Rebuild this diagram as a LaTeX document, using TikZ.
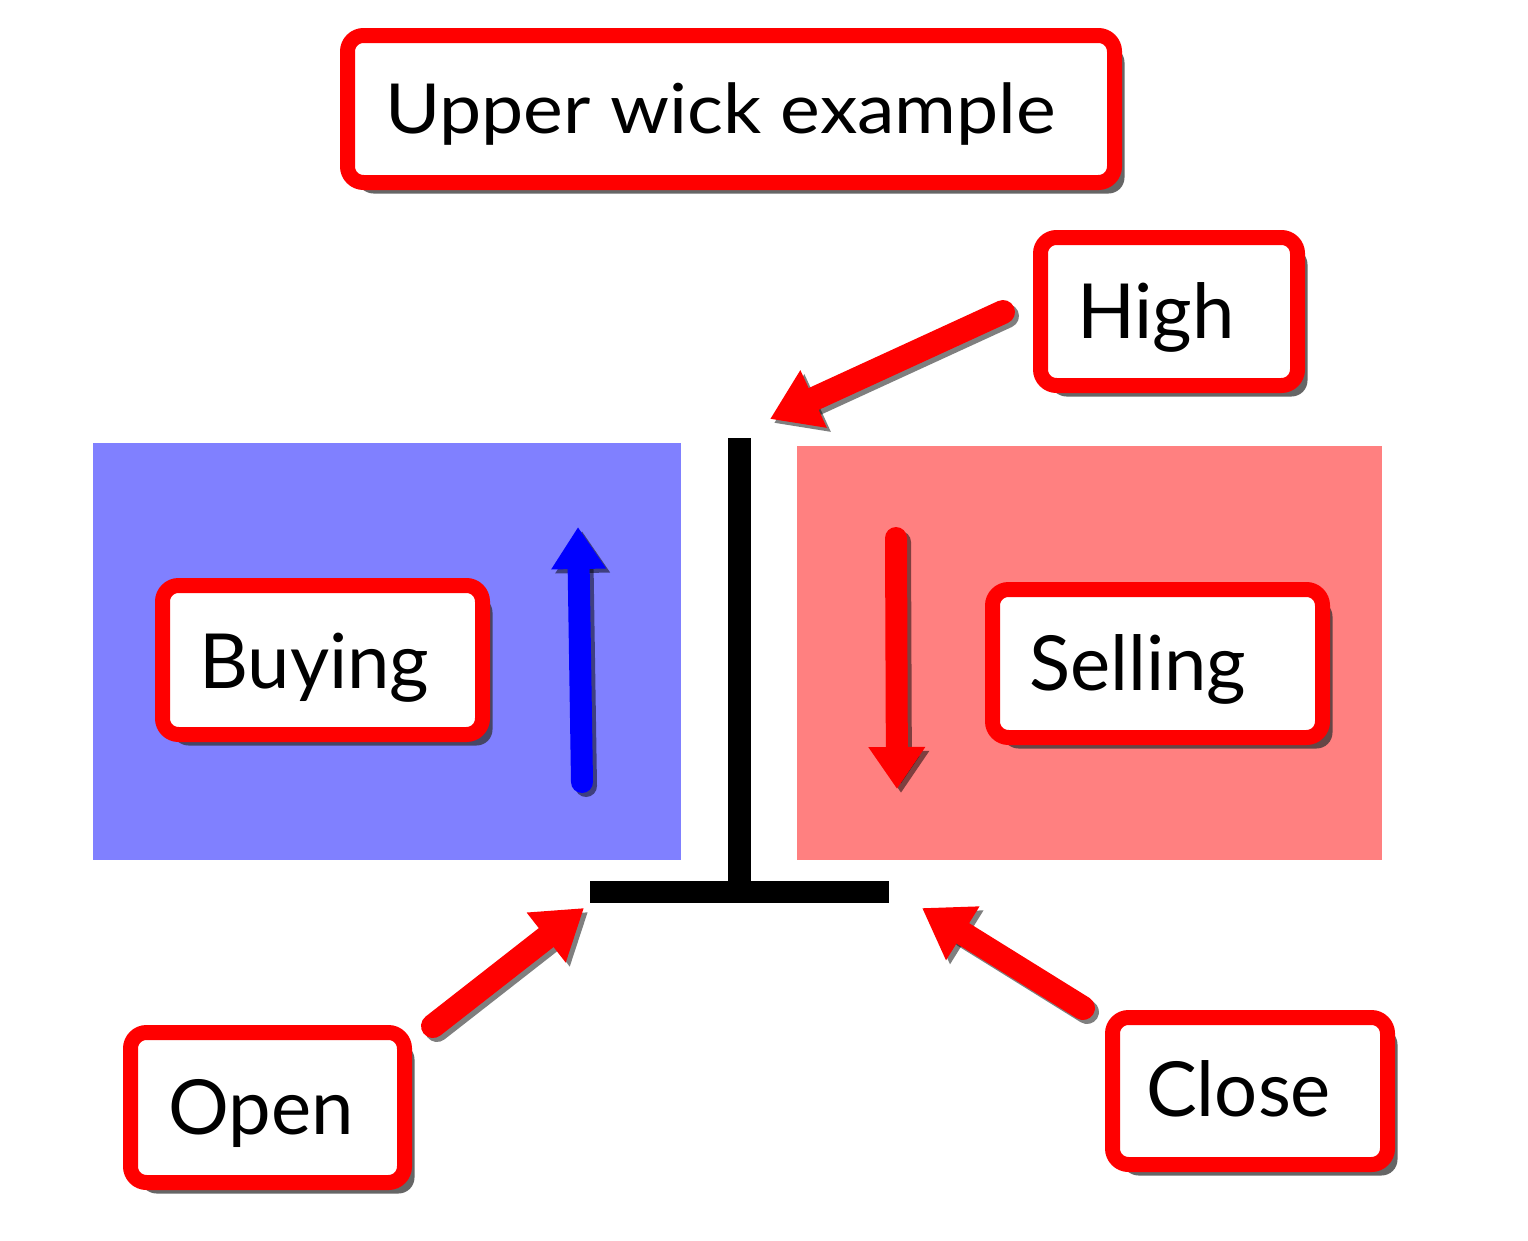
\documentclass[tikz,border=0pt]{standalone}
\usepackage{fontspec}
\setmainfont{Lato}
\usetikzlibrary{arrows.meta,shadows}
\definecolor{buyfill}{HTML}{8080FF}
\definecolor{sellfill}{HTML}{FF8080}
\definecolor{boxred}{HTML}{FF0000}
\tikzset{
  labelbox/.style={draw=boxred, line width=15pt, rounded corners=16pt, fill=white,
    inner sep=0pt, drop shadow={shadow xshift=10pt, shadow yshift=-11pt, opacity=0.75, fill=black!80}},
  labeltext/.style={anchor=base west, inner sep=0pt, font=\fontsize{76}{80}\selectfont},
  titletext/.style={anchor=base west, inner sep=0pt, xscale=1.09, font=\fontsize{69}{72}\selectfont},
  bigarrow/.style={line width=24pt, line cap=round, -{Triangle[width=60pt,length=48pt]}},
  arrowshadow/.style={bigarrow, draw=black, opacity=0.5, transform canvas={xshift=4pt,yshift=-4pt}},
  candle/.style={fill=black, draw=none}
}
\begin{document}
\begin{tikzpicture}[x=1pt,y=-1pt]
\useasboundingbox (0,0) rectangle (1528,1240);
\fill[white] (0,0) rectangle (1528,1240);

% coloured zones
\fill[buyfill] (93,443) rectangle (681,860);
\fill[sellfill] (797,446) rectangle (1382,860);

% candle
\fill[candle] (728,438) rectangle (751,892);
\fill[candle] (590,881) rectangle (889,903);

% boxes
\node[labelbox, minimum width=767pt, minimum height=147pt] (title) at (731,109) {};
\node[titletext] (titlet) at (385,133) {Upper wick example};

\node[labelbox, minimum width=257pt, minimum height=148pt] (high) at (1169,311.5) {};
\node[labeltext] (hight) at (1077,338) {High};

\node[labelbox, minimum width=320pt, minimum height=149pt] (buy) at (322.5,660) {};
\node[labeltext] (buyt) at (199,688) {Buying};

\node[labelbox, minimum width=330pt, minimum height=148pt] (sell) at (1157.5,663.5) {};
\node[labeltext] (sellt) at (1029,690) {Selling};

\node[labelbox, minimum width=274pt, minimum height=150pt] (open) at (267.5,1107.5) {};
\node[labeltext] (opent) at (168,1134) {Open};

\node[labelbox, minimum width=275pt, minimum height=147pt] (close) at (1250,1091) {};
\node[labeltext] (closet) at (1146,1116) {Close};

% arrow anchor coordinates
\coordinate (hightail) at (1003,312);
\coordinate (hightip) at (770,419);
\coordinate (opentail) at (433,1026);
\coordinate (opentip) at (584,908);
\coordinate (closetail) at (1083,1008);
\coordinate (closetip) at (922,908);
\coordinate (buytail) at (582,782);
\coordinate (buytip) at (578,527);
\coordinate (selltail) at (896,538);
\coordinate (selltip) at (897,789);

% pointer arrows
\draw[arrowshadow] (hightail) -- (hightip);
\draw[bigarrow, draw=boxred, fill=boxred] (hightail) -- (hightip);
\draw[arrowshadow] (opentail) -- (opentip);
\draw[bigarrow, draw=boxred, fill=boxred] (opentail) -- (opentip);
\draw[arrowshadow] (closetail) -- (closetip);
\draw[bigarrow, draw=boxred, fill=boxred] (closetail) -- (closetip);

% direction arrows
\draw[arrowshadow, line width=22pt, -{Triangle[width=52pt,length=42pt]}] (buytail) -- (buytip);
\draw[line width=22pt, line cap=round, draw=blue, -{Triangle[width=52pt,length=42pt]}] (buytail) -- (buytip);
\draw[arrowshadow, line width=22pt, -{Triangle[width=54pt,length=42pt]}] (selltail) -- (selltip);
\draw[line width=22pt, line cap=round, draw=boxred, -{Triangle[width=54pt,length=42pt]}] (selltail) -- (selltip);
\end{tikzpicture}
\end{document}
